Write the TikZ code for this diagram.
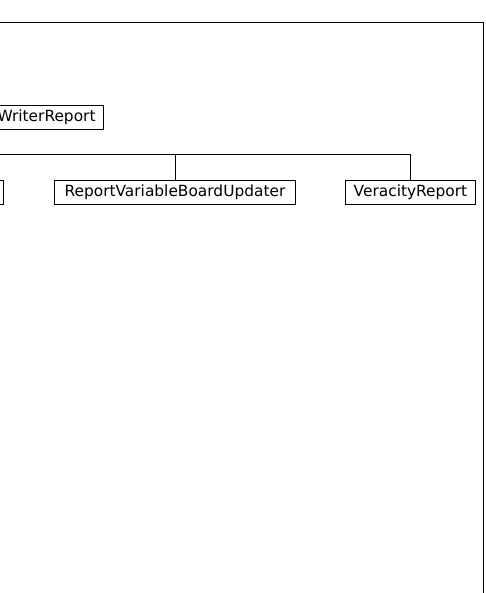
\documentclass[tikz,border=0pt]{standalone}
\usepackage{fontspec}
\setmainfont{DejaVu Sans}
\begin{document}
\begin{tikzpicture}[x=1pt,y=-1pt,
  cls/.style={draw=black, line width=0.9pt, fill=white, inner sep=0pt,
    minimum height=24pt, font=\fontsize{15.4}{18}\selectfont},
  link/.style={draw=black, line width=0.9pt}]
\useasboundingbox (0,0) rectangle (486,593);
\clip (0,0) rectangle (486,593);
\fill[white] (0,0) rectangle (486,593);
% frame
\draw[link] (-20,22) -- (483,22) -- (483,620);
% nodes
\node[cls, minimum width=260pt, text width=244pt, align=right, anchor=north east] (wr) at (104,105) {WriterReport};
\node[cls, minimum width=160pt, anchor=north east] (lc) at (4,180) {};
\node[cls, minimum width=241pt, anchor=north west] (rv) at (54,180) {ReportVariableBoardUpdater};
\node[cls, minimum width=130pt, anchor=north west] (vr) at (345,180) {VeracityReport};
% connectors
\path (wr.south) ++(0,25) coordinate (bus);
\draw[link] (wr.south) -- (bus);
\draw[link] (bus) -| (lc.north);
\draw[link] (bus) -| (rv.north);
\draw[link] (bus) -| (vr.north);
\end{tikzpicture}
\end{document}
